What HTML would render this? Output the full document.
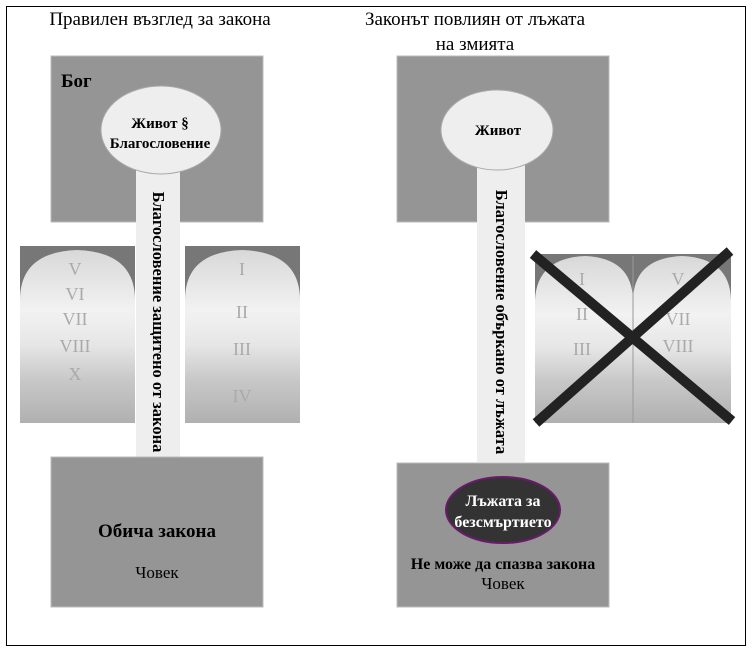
<!DOCTYPE html>
<html><head><meta charset="utf-8"><style>
body{margin:0;background:#fff}
svg{display:block}
text{font-family:"Liberation Serif",serif}
</style></head><body>
<svg width="755" height="653" viewBox="0 0 755 653" xmlns="http://www.w3.org/2000/svg">
<defs>
<linearGradient id="tab" x1="0" y1="0" x2="0" y2="1">
<stop offset="0" stop-color="#d8d8d8"/><stop offset="0.35" stop-color="#f2f2f2"/><stop offset="0.55" stop-color="#e6e6e6"/><stop offset="0.75" stop-color="#c8c8c8"/><stop offset="1" stop-color="#b0b0b0"/>
</linearGradient>
</defs>
<rect x="6.5" y="6.5" width="739" height="639" fill="#fff" stroke="#000" stroke-width="1"/>
<text x="160" y="25" font-size="19" text-anchor="middle" font-family="Liberation Sans">Правилен възглед за закона</text>
<text x="475" y="25" font-size="19" text-anchor="middle" font-family="Liberation Sans">Законът повлиян от лъжата</text>
<text x="475" y="50" font-size="19" text-anchor="middle" font-family="Liberation Sans">на змията</text>

<rect x="51" y="56" width="212" height="166" fill="#959595" stroke="#bbb"/>
<text x="61" y="87" font-size="19" font-weight="bold">Бог</text>
<rect x="20" y="246" width="115" height="177" fill="#777"/>
<path d="M20 423 V300 Q20 252 77 250 Q135 252 135 300 V423 Z" fill="url(#tab)"/>
<rect x="185" y="246" width="115" height="177" fill="#777"/>
<path d="M185 423 V300 Q185 252 242 250 Q300 252 300 300 V423 Z" fill="url(#tab)"/>
<g font-size="18" fill="#aaa" text-anchor="middle">
<text x="75" y="275">V</text><text x="75" y="300">VI</text><text x="75" y="325">VII</text><text x="75" y="352">VIII</text><text x="75" y="380">X</text>
<text x="242" y="275">I</text><text x="242" y="318">II</text><text x="242" y="355">III</text><text x="242" y="402">IV</text>
</g>
<rect x="136" y="160" width="44" height="327" fill="#eee"/>
<ellipse cx="161" cy="130" rx="60" ry="44" fill="#eee" stroke="#aaa"/>
<text x="160" y="128" font-size="15" font-weight="bold" text-anchor="middle">Живот §</text>
<text x="160" y="148" font-size="15" font-weight="bold" text-anchor="middle">Благословение</text>
<text transform="translate(153,322) rotate(90)" font-size="16.5" font-weight="bold" text-anchor="middle">Благословение защитено от закона</text>
<rect x="51" y="457" width="212" height="150" fill="#959595" stroke="#bbb"/>
<text x="157" y="537" font-size="19" font-weight="bold" text-anchor="middle">Обича закона</text>
<text x="157" y="578" font-size="17" text-anchor="middle">Човек</text>

<rect x="397" y="56" width="212" height="166" fill="#959595" stroke="#bbb"/>
<rect x="477" y="160" width="48" height="302" fill="#eee"/>
<ellipse cx="497" cy="130" rx="56" ry="40" fill="#eee" stroke="#aaa"/>
<text x="498" y="135" font-size="15" font-weight="bold" text-anchor="middle">Живот</text>
<text transform="translate(496,322) rotate(90)" font-size="16.5" font-weight="bold" text-anchor="middle">Благословение объркано от лъжата</text>
<rect x="535" y="254" width="196" height="169" fill="#777"/>
<path d="M535 423 V300 Q537 258 585 256 Q632 258 633 300 V423 Z" fill="url(#tab)"/>
<path d="M633 423 V300 Q634 258 682 256 Q730 258 731 300 V423 Z" fill="url(#tab)"/>
<line x1="633" y1="256" x2="633" y2="423" stroke="#999"/>
<g font-size="18" fill="#aaa" text-anchor="middle">
<text x="582" y="285">I</text><text x="582" y="320">II</text><text x="582" y="355">III</text>
<text x="678" y="285">V</text><text x="678" y="325">VII</text><text x="678" y="352">VIII</text>
</g>
<line x1="533" y1="254" x2="732" y2="421" stroke="#222" stroke-width="10"/>
<line x1="730" y1="251" x2="536" y2="423" stroke="#222" stroke-width="10"/>
<rect x="397" y="463" width="212" height="144" fill="#959595" stroke="#bbb"/>
<ellipse cx="503" cy="510" rx="57" ry="33" fill="#333" stroke="#6a1a6a" stroke-width="2"/>
<text x="503" y="506" font-size="16" font-weight="bold" fill="#fff" text-anchor="middle">Лъжата за</text>
<text x="503" y="527" font-size="16" font-weight="bold" fill="#fff" text-anchor="middle">безсмъртието</text>
<text x="503" y="569" font-size="16" font-weight="bold" text-anchor="middle">Не може да спазва закона</text>
<text x="503" y="589" font-size="17" text-anchor="middle">Човек</text>
</svg>
</body></html>
